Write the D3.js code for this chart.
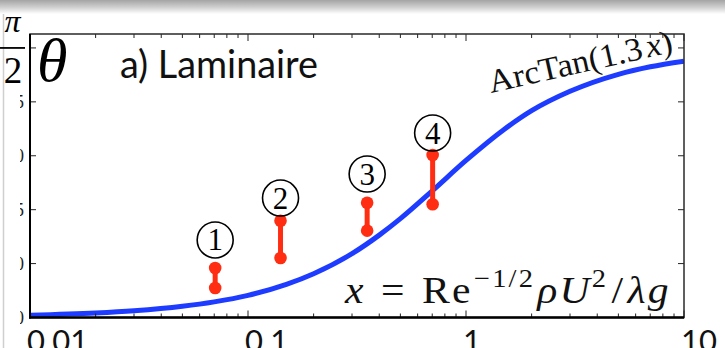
<!DOCTYPE html>
<html>
<head>
<meta charset="utf-8">
<script src="https://cdn.jsdelivr.net/npm/d3@7"></script>
<style>
  html, body { margin: 0; padding: 0; background: #fff; overflow: hidden; }
  svg { display: block; }
</style>
</head>
<body>
<svg id="chart" width="725" height="348"></svg>
<script>
// values
const curveX = [0.01, 0.02, 0.03, 0.05, 0.07, 0.1, 0.15, 0.2, 0.3, 0.4, 0.5, 0.7, 1, 1.5, 2, 3, 5, 7, 10];
const curveTheta = [0.013, 0.026, 0.039, 0.065, 0.091, 0.129, 0.193, 0.255, 0.372, 0.480, 0.576, 0.738, 0.915, 1.097, 1.205, 1.318, 1.417, 1.461, 1.494];

const pointX = [0.0707, 0.141, 0.352, 0.703];
const pointLow = [0.172, 0.347, 0.506, 0.660];
const pointHigh = [0.288, 0.564, 0.669, 0.947];
const pointLabels = ['1', '2', '3', '4'];
const labelTheta = [0.452, 0.696, 0.836, 1.075];

const xTicks = [0.01, 0.1, 1, 10];
const xTickLabels = ['0.01', '0.1', '1', '10'];
const yTicks = [0, Math.PI / 10, Math.PI / 5, 3 * Math.PI / 10, 2 * Math.PI / 5, Math.PI / 2];
const yTickLabels = ['0', 'π/10', 'π/5', '3π/10', '2π/5'];

const W = 725, H = 348;
const mLeft = 30, mRight = 684, mTop = 34, mBottom = 317.5;

const x = d3.scaleLog().domain([0.01, 10]).range([mLeft, mRight]);
const y = d3.scaleLinear().domain([0, 1.652]).range([mBottom, mTop]);

const svg = d3.select('#chart');
const defs = svg.append('defs');

// grey window band at the top
const grad = defs.append('linearGradient').attr('id', 'band').attr('x1', 0).attr('y1', 0).attr('x2', 0).attr('y2', 1);
grad.append('stop').attr('offset', 0).attr('stop-color', '#a4a4a4');
grad.append('stop').attr('offset', 0.55).attr('stop-color', '#d2d2d2');
grad.append('stop').attr('offset', 1).attr('stop-color', '#ffffff');
svg.append('rect').attr('x', 0).attr('y', 0).attr('width', W).attr('height', 14).attr('fill', 'url(#band)');

// faint line on the left edge
svg.append('line').attr('x1', 3.5).attr('x2', 3.5).attr('y1', 14).attr('y2', H)
    .attr('stroke', '#cfcfcf').attr('stroke-width', 1.5);

defs.append('clipPath').attr('id', 'plot')
    .append('rect').attr('x', mLeft).attr('y', mTop).attr('width', mRight - mLeft).attr('height', mBottom - mTop);
defs.append('clipPath').attr('id', 'sliver')
    .append('rect').attr('x', 20).attr('y', 0).attr('width', 4.5).attr('height', H);

// the curve
const line = d3.line()
    .x((d, i) => x(curveX[i]))
    .y((d) => y(d))
    .curve(d3.curveMonotoneX);
svg.append('path')
    .attr('d', line(curveTheta))
    .attr('clip-path', 'url(#plot)')
    .attr('fill', 'none')
    .attr('stroke', '#1e3cff')
    .attr('stroke-width', 5);

// ticks
const minor = [];
[0.01, 0.1, 1].forEach((dec) => { for (let k = 2; k <= 9; k++) minor.push(dec * k); });

const ticks = svg.append('g').attr('stroke', '#222').attr('stroke-width', 1);
minor.forEach((v) => {
    ticks.append('line').attr('x1', x(v)).attr('x2', x(v)).attr('y1', mBottom).attr('y2', mBottom - 4);
    ticks.append('line').attr('x1', x(v)).attr('x2', x(v)).attr('y1', mTop).attr('y2', mTop + 4);
});
xTicks.forEach((v) => {
    ticks.append('line').attr('x1', x(v)).attr('x2', x(v)).attr('y1', mBottom).attr('y2', mBottom - 7);
    ticks.append('line').attr('x1', x(v)).attr('x2', x(v)).attr('y1', mTop).attr('y2', mTop + 7);
});
yTicks.forEach((v) => {
    ticks.append('line').attr('x1', mLeft).attr('x2', mLeft + 6).attr('y1', y(v)).attr('y2', y(v));
    ticks.append('line').attr('x1', mRight).attr('x2', mRight - 6).attr('y1', y(v)).attr('y2', y(v));
});

// frame
svg.append('rect').attr('x', mLeft).attr('y', mTop).attr('width', mRight - mLeft).attr('height', mBottom - mTop)
    .attr('fill', 'none').attr('stroke', '#2a2a2a').attr('stroke-width', 1.5);
svg.append('line').attr('x1', mLeft).attr('x2', mLeft).attr('y1', mTop).attr('y2', mBottom + 1)
    .attr('stroke', '#000').attr('stroke-width', 2);
svg.append('line').attr('x1', mLeft - 1).attr('x2', mRight).attr('y1', mBottom).attr('y2', mBottom)
    .attr('stroke', '#000').attr('stroke-width', 2.5);

// x tick labels (cut by the bottom edge, as in the source image)
svg.append('g').selectAll('text').data(xTicks).join('text')
    .attr('x', (d) => x(d) - 3)
    .attr('y', 352)
    .attr('font-family', 'Lato, sans-serif')
    .attr('font-size', 31)
    .attr('fill', '#111')
    .text((d, i) => xTickLabels[i]);

// y tick labels: only a sliver is visible
svg.append('g').attr('clip-path', 'url(#sliver)').selectAll('text').data(yTickLabels).join('text')
    .attr('x', 24)
    .attr('y', (d, i) => y(yTicks[i]) + 6)
    .attr('text-anchor', 'end')
    .attr('font-family', 'Liberation Serif, serif')
    .attr('font-size', 18)
    .attr('fill', '#222')
    .text((d) => d);

// pi/2 label
svg.append('text').attr('x', 12.5).attr('y', 32).attr('text-anchor', 'middle')
    .attr('font-family', 'Liberation Serif, serif').attr('font-style', 'italic').attr('font-size', 32)
    .text('π');
svg.append('line').attr('x1', 0).attr('x2', 25).attr('y1', y(Math.PI / 2)).attr('y2', y(Math.PI / 2))
    .attr('stroke', '#000').attr('stroke-width', 1.8);
svg.append('text').attr('x', 13).attr('y', 83).attr('text-anchor', 'middle')
    .attr('font-family', 'Liberation Serif, serif').attr('font-size', 37)
    .text('2');

// theta and title
svg.append('text').attr('x', 37).attr('y', 81)
    .attr('font-family', 'Liberation Serif, serif').attr('font-style', 'italic').attr('font-size', 62)
    .text('θ');
svg.append('text').attr('x', 120).attr('y', 78)
    .attr('font-family', 'Lato, sans-serif').attr('font-size', 39)
    .attr('textLength', 198).attr('lengthAdjust', 'spacingAndGlyphs')
    .attr('fill', '#111')
    .text('a) Laminaire');

// error bars
const bars = svg.append('g');
pointX.forEach((px, i) => {
    const cx = x(px);
    bars.append('line').attr('x1', cx).attr('x2', cx).attr('y1', y(pointLow[i])).attr('y2', y(pointHigh[i]))
        .attr('stroke', '#ff2d12').attr('stroke-width', 5);
    bars.append('circle').attr('cx', cx).attr('cy', y(pointLow[i])).attr('r', 6.3).attr('fill', '#ff2d12');
    bars.append('circle').attr('cx', cx).attr('cy', y(pointHigh[i])).attr('r', 6.3).attr('fill', '#ff2d12');
    const ly = y(labelTheta[i]);
    bars.append('circle').attr('cx', cx).attr('cy', ly).attr('r', 18)
        .attr('fill', 'none').attr('stroke', '#000').attr('stroke-width', 1.6);
    bars.append('text').attr('x', cx).attr('y', ly + 10.5).attr('text-anchor', 'middle')
        .attr('font-family', 'Liberation Serif, serif').attr('font-size', 31)
        .text(pointLabels[i]);
});

// fit a text element to a width, keeping its anchor point
function fitWidth(sel, width, ax, ay) {
    const w = sel.node().getBBox().width;
    const s = width / w;
    sel.attr('transform', `translate(${ax},${ay}) scale(${s},1) translate(${-ax},${-ay})`);
}

// ArcTan(1.3 x) label
const arc = svg.append('g').attr('transform', 'translate(491,93) rotate(-12.7)');
const arcText = arc.append('text').attr('x', 0).attr('y', 0)
    .attr('font-family', 'Liberation Serif, serif').attr('font-size', 33).attr('fill', '#111');
arcText.append('tspan').text('ArcTan(1.3');
arcText.append('tspan').attr('font-style', 'italic').attr('dx', 4).text('x');
arcText.append('tspan').text(')');
fitWidth(arcText, 188, 0, 0);

// x = Re^{-1/2} rho U^2 / lambda g
const fx = svg.append('text').attr('x', 345).attr('y', 303)
    .attr('font-family', 'Liberation Serif, serif').attr('font-size', 38)
    .attr('letter-spacing', 2).attr('fill', '#111');
fx.append('tspan').attr('font-style', 'italic').text('x');
fx.append('tspan').attr('dx', 14).text('=');
fx.append('tspan').attr('dx', 14).text('Re');
fx.append('tspan').attr('font-size', 26).attr('dy', -16).attr('dx', 1).text('−1/2');
fx.append('tspan').attr('font-style', 'italic').attr('dy', 16).attr('dx', 2).text('ρU');
fx.append('tspan').attr('font-size', 26).attr('dy', -16).text('2');
fx.append('tspan').attr('dy', 16).attr('dx', 3).text('/');
fx.append('tspan').attr('font-style', 'italic').attr('dx', 2).text('λg');
fitWidth(fx, 327, 345, 303);
</script>
</body>
</html>
